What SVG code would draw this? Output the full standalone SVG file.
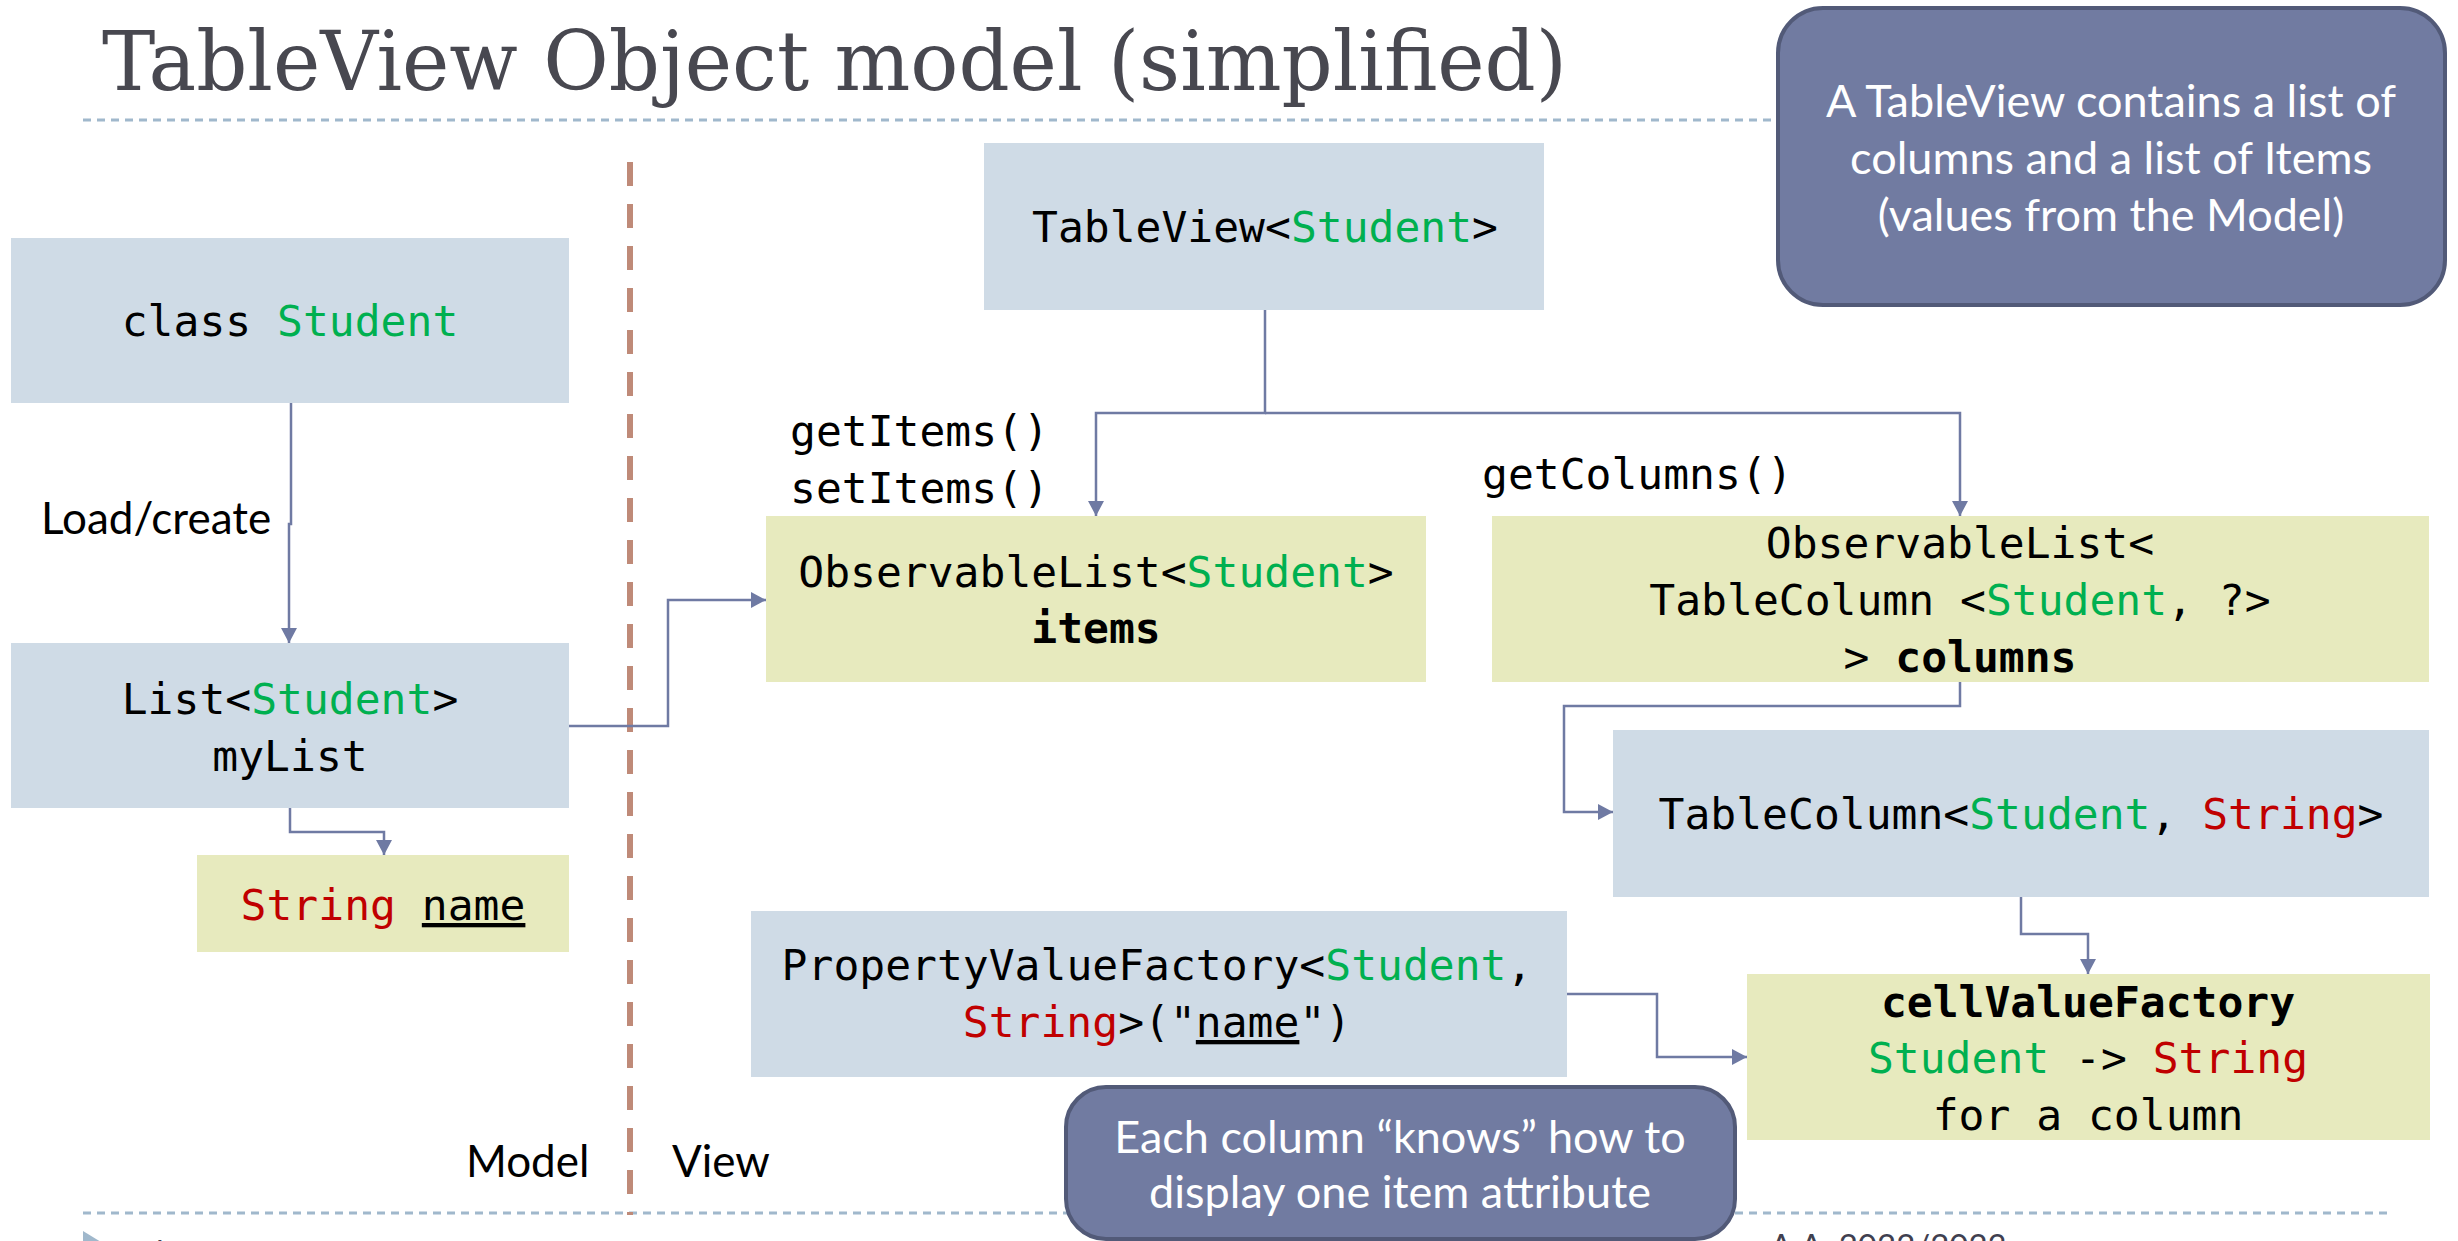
<svg xmlns="http://www.w3.org/2000/svg" width="2458" height="1241" viewBox="0 0 2458 1241">
<style>
.mono{font-family:"DejaVu Sans Mono","Liberation Mono",monospace;font-size:43px;fill:#000}
.b{font-weight:bold}
.g{fill:#00b050}
.r{fill:#c00000}
.lbl{font-family:Lato,"Open Sans",sans-serif;font-size:44px;fill:#000}
.call{font-family:Lato,"Open Sans",sans-serif;font-size:45px;fill:#fff}
.blue{fill:#cfdbe6}
.yel{fill:#e7eabe}
.conn{fill:none;stroke:#6f7aa3;stroke-width:2.5}
.co{fill:#717ba1;stroke:#525a78;stroke-width:4}
</style>
<defs>
<marker id="ah" markerUnits="userSpaceOnUse" markerWidth="16" markerHeight="16" refX="15" refY="8" orient="auto">
<path d="M0,0 L15,8 L0,16 z" fill="#6f7aa3"/>
</marker>
</defs>
<rect width="2458" height="1241" fill="#fff"/>
<g id="title">
<text x="102" y="90" font-family="DejaVu Serif" font-stretch="condensed" font-size="82" fill="#484850" textLength="1465" lengthAdjust="spacingAndGlyphs">TableView Object model (simplified)</text>
</g>
<g id="frame">
<line x1="83" y1="120" x2="2390" y2="120" stroke="#a0b8cc" stroke-width="3" stroke-dasharray="8 6"/>
<line x1="83" y1="1213" x2="2390" y2="1213" stroke="#a0b8cc" stroke-width="3" stroke-dasharray="8 6"/>
<line x1="630" y1="162" x2="630" y2="1215" stroke="#bf8a78" stroke-width="6" stroke-dasharray="24 18"/>
<polygon points="83,1231 101,1242 83,1253" fill="#a0b8cc"/>
<text x="148" y="1262" font-family="Lato,sans-serif" font-size="30" fill="#404050">4</text>
<text x="1770" y="1258" font-family="Lato,sans-serif" font-size="33" fill="#404050">A.A. 2022/2023</text>
<text class="lbl" x="466" y="1177">Model</text>
<text class="lbl" x="672" y="1177">View</text>
</g>
<g id="connectors">
<path class="conn" d="M291,403 V524 H289 V643" marker-end="url(#ah)"/>
<path class="conn" d="M290,808 V832 H384 V855" marker-end="url(#ah)"/>
<path class="conn" d="M569,726 H668 V600 H766" marker-end="url(#ah)"/>
<path class="conn" d="M1265,310 V413 H1096 V516" marker-end="url(#ah)"/>
<path class="conn" d="M1265,413 H1960 V516" marker-end="url(#ah)"/>
<path class="conn" d="M1960,682 V706 H1564 V812 H1613" marker-end="url(#ah)"/>
<path class="conn" d="M2021,897 V934 H2088 V974" marker-end="url(#ah)"/>
<path class="conn" d="M1567,994 H1657 V1057 H1747" marker-end="url(#ah)"/>
<text class="lbl" x="41" y="534">Load/create</text>
<text class="mono" x="790" y="446">getItems()</text>
<text class="mono" x="790" y="503">setItems()</text>
<text class="mono" x="1482" y="489">getColumns()</text>
</g>
<g id="student">
<rect class="blue" x="11" y="238" width="558" height="165"/>
<text class="mono" x="290" y="336" text-anchor="middle">class <tspan class="g">Student</tspan></text>
</g>
<g id="mylist">
<rect class="blue" x="11" y="643" width="558" height="165"/>
<text class="mono" x="290" y="714" text-anchor="middle">List&lt;<tspan class="g">Student</tspan>&gt;</text>
<text class="mono" x="290" y="771" text-anchor="middle">myList</text>
</g>
<g id="stringname">
<rect class="yel" x="197" y="855" width="372" height="97"/>
<text class="mono" x="383" y="920" text-anchor="middle"><tspan class="r">String</tspan> <tspan text-decoration="underline">name</tspan></text>
</g>
<g id="tableview">
<rect class="blue" x="984" y="143" width="560" height="167"/>
<text class="mono" x="1265" y="242" text-anchor="middle">TableView&lt;<tspan class="g">Student</tspan>&gt;</text>
</g>
<g id="items">
<rect class="yel" x="766" y="516" width="660" height="166"/>
<text class="mono" x="1096" y="587" text-anchor="middle">ObservableList&lt;<tspan class="g">Student</tspan>&gt;</text>
<text class="mono b" x="1096" y="643" text-anchor="middle">items</text>
</g>
<g id="columns">
<rect class="yel" x="1492" y="516" width="937" height="166"/>
<text class="mono" x="1960" y="558" text-anchor="middle">ObservableList&lt;</text>
<text class="mono" x="1960" y="615" text-anchor="middle">TableColumn &lt;<tspan class="g">Student</tspan>, ?&gt;</text>
<text class="mono" x="1960" y="672" text-anchor="middle">&gt; <tspan class="b">columns</tspan></text>
</g>
<g id="tablecolumn">
<rect class="blue" x="1613" y="730" width="816" height="167"/>
<text class="mono" x="2021" y="829" text-anchor="middle">TableColumn&lt;<tspan class="g">Student</tspan>, <tspan class="r">String</tspan>&gt;</text>
</g>
<g id="pvf">
<rect class="blue" x="751" y="911" width="816" height="166"/>
<text class="mono" x="1157" y="980" text-anchor="middle">PropertyValueFactory&lt;<tspan class="g">Student</tspan>,</text>
<text class="mono" x="1157" y="1037" text-anchor="middle"><tspan class="r">String</tspan>&gt;("<tspan text-decoration="underline">name</tspan>")</text>
</g>
<g id="cellvaluefactory">
<rect class="yel" x="1747" y="974" width="683" height="166"/>
<text class="mono b" x="2088" y="1017" text-anchor="middle">cellValueFactory</text>
<text class="mono" x="2088" y="1073" text-anchor="middle"><tspan class="g">Student</tspan> -&gt; <tspan class="r">String</tspan></text>
<text class="mono" x="2088" y="1130" text-anchor="middle">for a column</text>
</g>
<g id="callout-top">
<rect class="co" x="1778" y="8" width="667" height="297" rx="45" ry="45"/>
<text class="call" x="2111" y="117" text-anchor="middle">A TableView contains a list of</text>
<text class="call" x="2111" y="174" text-anchor="middle">columns and a list of Items</text>
<text class="call" x="2111" y="231" text-anchor="middle">(values from the Model)</text>
</g>
<g id="callout-bottom">
<rect class="co" x="1066" y="1087" width="669" height="152" rx="40" ry="40"/>
<text class="call" x="1400" y="1153" text-anchor="middle">Each column “knows” how to</text>
<text class="call" x="1400" y="1208" text-anchor="middle">display one item attribute</text>
</g>
</svg>
